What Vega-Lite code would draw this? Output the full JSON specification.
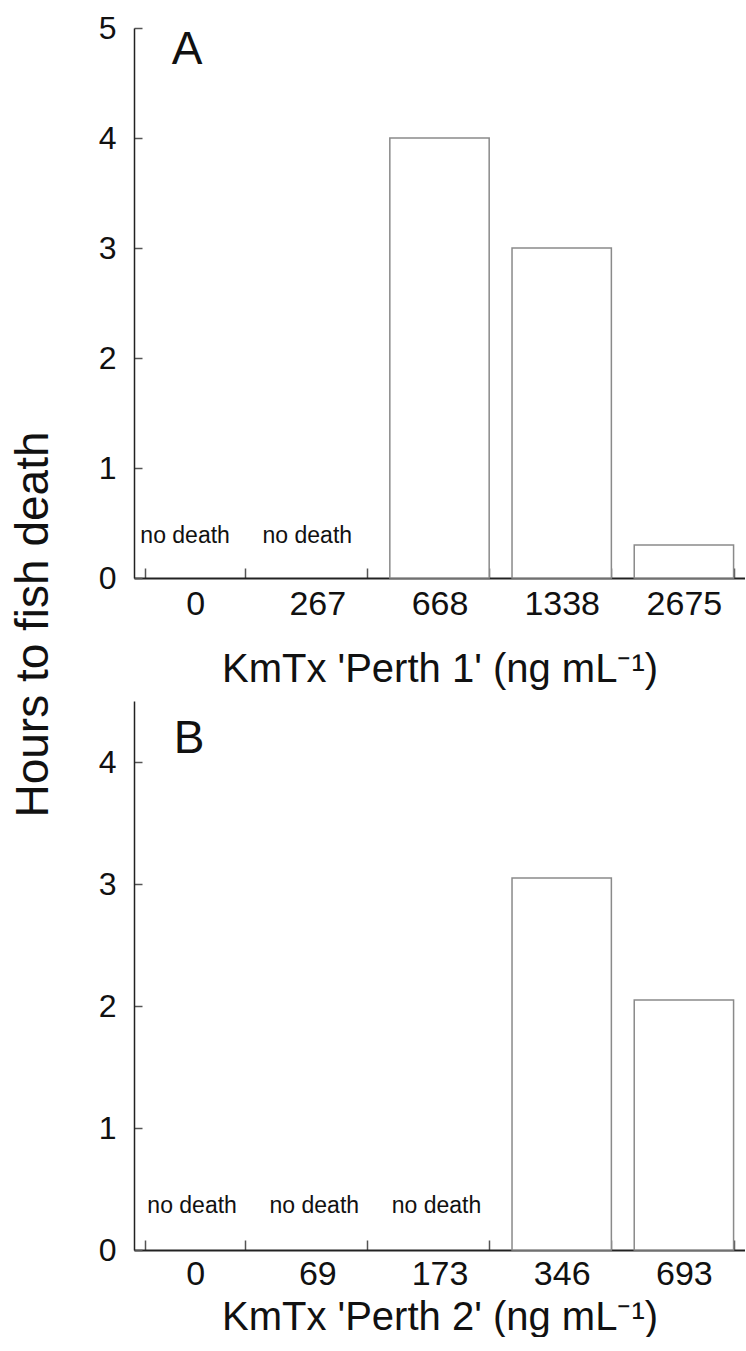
{
  "$schema": "https://vega.github.io/schema/vega-lite/v6.json",
  "padding": {"left": 11, "top": 12, "right": 0, "bottom": 0},
  "background": "white",
  "title": {"text": "Hours to fish death", "orient": "left", "anchor": "middle", "fontSize": 46, "font": "Liberation Sans", "fontWeight": "normal", "color": "#111", "offset": 40, "dx": 50},
  "spacing": 12,
  "config": {
    "view": {"stroke": null},
    "font": "Liberation Sans",
    "axis": {
      "labelFont": "Liberation Sans", "titleFont": "Liberation Sans",
      "labelColor": "#111", "titleColor": "#111", "titleFontWeight": "normal",
      "domainColor": "#222", "tickColor": "#555", "grid": false
    }
  },
  "datasets": {
    "a": [
      {"conc": "0", "hours": 0, "note": "no death"},
      {"conc": "267", "hours": 0, "note": "no death"},
      {"conc": "668", "hours": 4.0, "note": ""},
      {"conc": "1338", "hours": 3.0, "note": ""},
      {"conc": "2675", "hours": 0.3, "note": ""}
    ],
    "b": [
      {"conc": "0", "hours": 0, "note": "no death"},
      {"conc": "69", "hours": 0, "note": "no death"},
      {"conc": "173", "hours": 0, "note": "no death"},
      {"conc": "346", "hours": 3.05, "note": ""},
      {"conc": "693", "hours": 2.05, "note": ""}
    ]
  },
  "vconcat": [
    {
      "width": 611,
      "height": 550,
      "data": {"name": "a"},
      "encoding": {
        "x": {
          "field": "conc", "type": "nominal", "sort": null,
          "scale": {"domain": ["0", "267", "668", "1338", "2675"], "paddingInner": 0.187, "paddingOuter": 0.0935},
          "axis": {"title": "KmTx 'Perth 1' (ng mL⁻¹)", "labelAngle": 0, "labelFontSize": 34, "titleFontSize": 40, "tickBand": "extent", "tickSize": -10, "tickWidth": 1.5, "domainWidth": 2, "labelPadding": 19, "titlePadding": 28}
        }
      },
      "layer": [
        {
          "transform": [{"filter": "datum.hours > 0"}],
          "mark": {"type": "bar", "fill": "white", "stroke": "#8a8a8a", "strokeWidth": 1.5},
          "encoding": {
            "y": {"field": "hours", "type": "quantitative", "scale": {"domain": [0, 5], "nice": false},
              "axis": {"title": null, "values": [0, 1, 2, 3, 4, 5], "format": "d", "labelFontSize": 32, "tickSize": -8, "tickWidth": 1.5, "domainWidth": 1.5, "labelPadding": 26}}
          }
        },
        {
          "transform": [{"filter": "datum.note != ''"}],
          "mark": {"type": "text", "fontSize": 23, "color": "#111", "align": "center", "baseline": "alphabetic", "dx": -10},
          "encoding": {"text": {"field": "note"}, "y": {"datum": 0.32}}
        },
        {
          "data": {"values": [{"panel": "A", "conc": "0"}]},
          "mark": {"type": "text", "fontSize": 46, "color": "#111", "align": "center", "baseline": "alphabetic", "dx": -8},
          "encoding": {"text": {"field": "panel"}, "y": {"datum": 4.67}}
        }
      ]
    },
    {
      "width": 611,
      "height": 549,
      "data": {"name": "b"},
      "encoding": {
        "x": {
          "field": "conc", "type": "nominal", "sort": null,
          "scale": {"domain": ["0", "69", "173", "346", "693"], "paddingInner": 0.187, "paddingOuter": 0.0935},
          "axis": {"title": "KmTx 'Perth 2' (ng mL⁻¹)", "labelAngle": 0, "labelFontSize": 34, "titleFontSize": 40, "tickBand": "extent", "tickSize": -10, "tickWidth": 1.5, "domainWidth": 2, "labelPadding": 17, "titlePadding": 6}
        }
      },
      "layer": [
        {
          "transform": [{"filter": "datum.hours > 0"}],
          "mark": {"type": "bar", "fill": "white", "stroke": "#8a8a8a", "strokeWidth": 1.5},
          "encoding": {
            "y": {"field": "hours", "type": "quantitative", "scale": {"domain": [0, 4.5], "nice": false},
              "axis": {"title": null, "values": [0, 1, 2, 3, 4], "format": "d", "labelFontSize": 32, "tickSize": -8, "tickWidth": 1.5, "domainWidth": 1.5, "labelPadding": 26}}
          }
        },
        {
          "transform": [{"filter": "datum.note != ''"}],
          "mark": {"type": "text", "fontSize": 23, "color": "#111", "align": "center", "baseline": "alphabetic", "dx": -3},
          "encoding": {"text": {"field": "note"}, "y": {"datum": 0.3}}
        },
        {
          "data": {"values": [{"panel": "B", "conc": "0"}]},
          "mark": {"type": "text", "fontSize": 46, "color": "#111", "align": "center", "baseline": "alphabetic", "dx": -6},
          "encoding": {"text": {"field": "panel"}, "y": {"datum": 4.07}}
        }
      ]
    }
  ]
}
